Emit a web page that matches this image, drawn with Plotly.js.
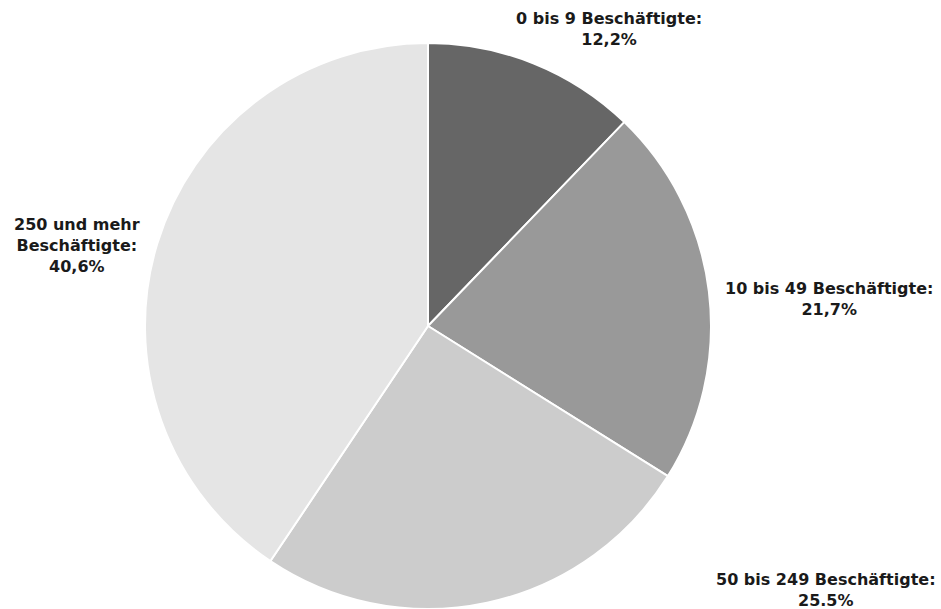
<!DOCTYPE html>
<html><head><meta charset="utf-8">
<script src="https://cdn.plot.ly/plotly-3.0.1.min.js"></script>
<style>html,body{margin:0;padding:0;background:#fff}</style>
</head><body><div id="chart" style="width:941px;height:609px"></div>
<script>
const categories = ["0 bis 9 Beschäftigte", "10 bis 49 Beschäftigte", "50 bis 249 Beschäftigte", "250 und mehr Beschäftigte"];
const values = [12.2, 21.7, 25.5, 40.6];
const valueLabels = ["12,2%", "21,7%", "25.5%", "40,6%"];
const labelLines = [
  "0 bis 9 Beschäftigte:",
  "10 bis 49 Beschäftigte:",
  "50 bis 249 Beschäftigte:",
  "250 und mehr<br>Beschäftigte:"
];
const colors = ["#666666", "#999999", "#cccccc", "#e5e5e5"];

const W = 941, H = 609;
const labelPos = [[609, 29], [829, 299], [826, 590], [77, 246]];

const annotations = categories.map((c, i) => ({
  xref: "paper", yref: "paper",
  x: labelPos[i][0] / W, y: 1 - labelPos[i][1] / H,
  xanchor: "center", yanchor: "middle",
  showarrow: false,
  text: "<b>" + labelLines[i] + "<br>" + valueLabels[i] + "</b>",
  font: {family: "DejaVu Sans", size: 16, color: "#1a1a1a"},
  align: "center"
}));

Plotly.newPlot("chart", [{
  type: "pie",
  labels: categories,
  values: values,
  sort: false,
  direction: "clockwise",
  rotation: 0,
  textinfo: "none",
  hoverinfo: "label+percent",
  marker: {colors: colors, line: {color: "#ffffff", width: 2}},
  domain: {x: [145 / W, 711 / W], y: [0, 1 - 43 / H]}
}], {
  width: W, height: H,
  margin: {l: 0, r: 0, t: 0, b: 0},
  showlegend: false,
  paper_bgcolor: "#ffffff",
  annotations: annotations
}, {displayModeBar: false, staticPlot: true});
</script></body></html>
